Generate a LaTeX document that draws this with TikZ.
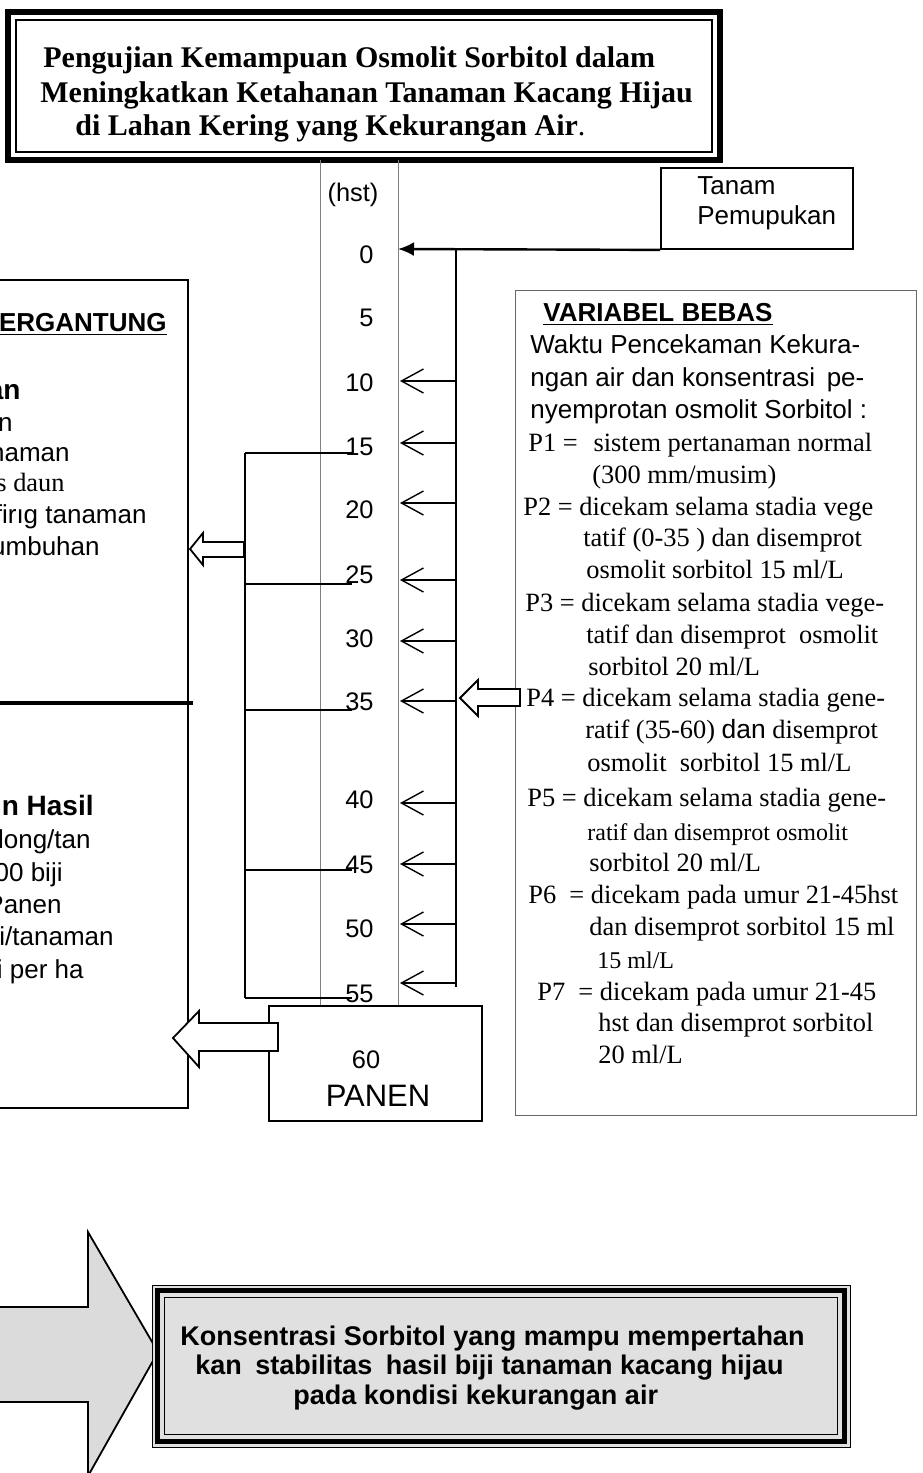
\documentclass[tikz,border=0pt]{standalone}
\usepackage{fontspec}
\setmainfont{Liberation Serif}
\setsansfont{Liberation Sans}
\usetikzlibrary{arrows.meta}
\begin{document}
\begin{tikzpicture}[x=0.5pt,y=-0.5pt,
  sanst/.style={inner sep=0pt, text height=8pt, text depth=0pt, anchor=west, font=\sffamily\fontsize{13}{15}\selectfont},
  sanse/.style={sanst, anchor=east},
  boldsans/.style={inner sep=0pt, text height=8.5pt, text depth=0pt, anchor=west, font=\sffamily\bfseries\fontsize{13}{15}\selectfont},
  boldbig/.style={inner sep=0pt, text height=9pt, text depth=0pt, anchor=east, font=\sffamily\bfseries\fontsize{14}{16}\selectfont},
  seriftxt/.style={inner sep=0pt, text height=8pt, text depth=0pt, anchor=west, font=\rmfamily\fontsize{13.2}{15}\selectfont},
  smallser/.style={seriftxt, font=\rmfamily\fontsize{12}{14}\selectfont},
  num/.style={inner sep=0pt, text height=8pt, text depth=0pt, anchor=east, font=\sffamily\fontsize{12.7}{15}\selectfont},
  titletxt/.style={inner sep=0pt, text height=9.5pt, text depth=0pt, anchor=west, font=\rmfamily\bfseries\fontsize{15}{18}\selectfont},
  conc/.style={inner sep=0pt, text height=8.5pt, text depth=0pt, anchor=west, font=\sffamily\bfseries\fontsize{13.5}{16}\selectfont},
  gline/.style={line width=0.4pt, black!50},
  mainline/.style={line width=1.2pt},
  brk/.style={line width=0.9pt},
  barb/.style={line width=0.7pt, -{Straight Barb[length=11pt,width=12pt]}},
  hollow/.style={line width=0.9pt, fill=white, line join=miter},
  boxline/.style={line width=0.9pt},
]
\fill[white] (0,0) rectangle (922,1473);
\useasboundingbox (0,0) rectangle (922,1473);

% ---------- title ----------
\node[draw, line width=3pt, minimum width=356pt, minimum height=74pt, inner sep=0pt] (titlebox) at (364,86) {};
\node[draw, line width=0.6pt, minimum width=348pt, minimum height=66pt, inner sep=0pt] (titleinner) at (titlebox.center) {};
\node[titletxt] (title1) at (43,58) {Pengujian Kemampuan Osmolit Sorbitol dalam};
\node[titletxt] (title2) at (40,93) {Meningkatkan Ketahanan Tanaman Kacang Hijau};
\node[titletxt] (title3) at (75,126) {di Lahan Kering yang Kekurangan Air{\mdseries.}};

% ---------- time column ----------
\coordinate (g1t) at (320,160); \coordinate (g1b) at (320,1006);
\coordinate (g2t) at (398,160); \coordinate (g2b) at (398,1006);
\draw[gline] (g1t) -- (g1b);
\draw[gline] (g2t) -- (g2b);

\node[num, anchor=center] (hst) at (353,193) {(hst)};
\foreach \lv/\yy in {0/255,5/318,10/383,15/447,20/510,25/575,30/639,35/702,40/800,45/865,50/929,55/994}
  {\node[num] (n\lv) at (374,\yy) {\lv};}

% ---------- Tanam box and main line ----------
\node[draw, boxline, minimum width=96pt, minimum height=40.5pt, inner sep=0pt] (tanam) at (757,208.5) {};
\node[sanst] (tanamA) at (697,186) {Tanam};
\node[sanst] (tanamB) at (697,216) {Pemupukan};
\coordinate (tip0) at (398,249);
\draw[mainline, -{Latex[length=8pt,width=7pt]}] (tanam.south west) -- (tip0);
\coordinate (vtop) at (456,249); \coordinate (vbot) at (456,987);
\draw[mainline] (vtop) -- (vbot);
\foreach \lv/\yy in {10/381,15/443,20/503,25/580,30/641,35/701,40/803,45/864,50/924,55/983}
  {\coordinate (as\lv) at (456,\yy); \coordinate (ae\lv) at (400,\yy);
   \draw[barb] (as\lv) -- (ae\lv);}

% ---------- bracket ----------
\foreach \lv/\yy in {15/453,25/584,35/710,45/870,55/998}
  {\coordinate (bl\lv) at (245,\yy); \coordinate (br\lv) at (352,\yy);
   \draw[brk] (bl\lv) -- (br\lv);}
\draw[brk] (bl15) -- (bl55);

% ---------- left box (cut) ----------
\coordinate (lb1) at (-3,280); \coordinate (lb2) at (188,280);
\coordinate (lb3) at (188,1108); \coordinate (lb4) at (-3,1108);
\draw[boxline] (lb1) -- (lb2) -- (lb3) -- (lb4);
\coordinate (sep1) at (-3,703); \coordinate (sep2) at (193,703);
\draw[line width=2.2pt] (sep1) -- (sep2);
\node[boldsans, anchor=east] (lt0) at (167,323) {\underline{ERGANTUNG}};
\node[boldbig] (lt1) at (21,390) {an};
\node[sanse] (lt2) at (13,423) {n};
\node[sanse] (lt3) at (70,453) {naman};
\node[seriftxt, anchor=east] (lt4) at (65,483) {s daun};
\node[sanse] (lt5) at (147,515) {firıg tanaman};
\node[sanse] (lt6) at (100,547) {umbuhan};
\node[boldbig] (lb0) at (94,806) {n Hasil};
\node[sanse] (lbA) at (91,840) {long/tan};
\node[sanse] (lbB) at (63,873) {00 biji};
\node[sanse] (lbC) at (62,905) {Panen};
\node[sanse] (lbD) at (114,937) {i/tanaman};
\node[sanse] (lbE) at (84,970) {i per ha};

% hollow arrow bracket -> left box
\draw[hollow] (244,542) -- (203,542) -- (203,533) -- (190,549) -- (203,565) -- (203,557) -- (244,557) -- cycle;

% ---------- PANEN ----------
\node[draw, line width=1pt, minimum width=106.5pt, minimum height=57.5pt, inner sep=0pt] (panen) at (375.5,1063.5) {};
\node[num, anchor=center] (p60) at (366,1060) {60};
\node[inner sep=0pt, text height=11pt, text depth=0pt, font=\sffamily\fontsize{15.5}{18}\selectfont] (ptext) at (378,1095) {PANEN};
\draw[hollow] (278,1023) -- (199,1023) -- (199,1011) -- (173,1038) -- (199,1067) -- (199,1051) -- (278,1051) -- cycle;

% ---------- right box ----------
\node[draw, line width=0.5pt, black!60, minimum width=200.5pt, minimum height=412.5pt, inner sep=0pt] (bebas) at (715.5,702.5) {};
\draw[hollow] (520,689) -- (478,689) -- (478,680) -- (460,698) -- (478,716) -- (478,706) -- (520,706) -- cycle;
\node[boldsans] (rb0) at (543,313) {\underline{VARIABEL BEBAS}};
\node[sanst] (rb1) at (530,345) {Waktu Pencekaman Kekura-};
\node[sanst] (rb2) at (530,378) {ngan air dan konsentrasi\hspace{0.45em}pe-};
\node[sanst] (rb3) at (530,410) {nyemprotan osmolit Sorbitol :};
\node[seriftxt] (rb4) at (528,443) {P1 =\hspace{0.6em}sistem pertanaman normal};
\node[seriftxt] (rb5) at (592,475) {(300 mm/musim)};
\node[seriftxt] (rb6) at (523,507) {P2 = dicekam selama stadia vege};
\node[seriftxt] (rb7) at (583,538) {tatif (0-35 ) dan disemprot};
\node[seriftxt] (rb8) at (586,570) {osmolit sorbitol 15 ml/L};
\node[seriftxt] (rb9) at (525,603) {P3 = dicekam selama stadia vege-};
\node[seriftxt] (rb10) at (586,635) {tatif dan disemprot\hspace{0.5em}osmolit};
\node[seriftxt] (rb11) at (588,667) {sorbitol 20 ml/L};
\node[seriftxt] (rb12) at (526,698) {P4 = dicekam selama stadia gene-};
\node[seriftxt] (rb13) at (585,730) {ratif (35-60) {\sffamily dan} disemprot};
\node[seriftxt] (rb14) at (587,763) {osmolit\hspace{0.5em}sorbitol 15 ml/L};
\node[seriftxt] (rb15) at (527,798) {P5 = dicekam selama stadia gene-};
\node[smallser] (rb16) at (587,832) {ratif dan disemprot osmolit};
\node[seriftxt] (rb17) at (589,863) {sorbitol 20 ml/L};
\node[seriftxt] (rb18) at (528,895) {P6\hspace{0.5em}= dicekam pada umur 21-45hst};
\node[seriftxt] (rb19) at (589,927) {dan disemprot sorbitol 15 ml};
\node[smallser] (rb20) at (597,960) {15 ml/L};
\node[seriftxt] (rb21) at (537,992) {P7\hspace{0.5em}= dicekam pada umur 21-45};
\node[seriftxt] (rb22) at (598,1023) {hst dan disemprot sorbitol};
\node[seriftxt] (rb23) at (598,1055) {20 ml/L};

% ---------- bottom ----------
\draw[line width=0.9pt, fill=black!14, line join=miter] (-3,1307) -- (88,1307) -- (88,1232) -- (158,1352) -- (88,1476) -- (88,1402) -- (-3,1402) -- cycle;
\node[draw, line width=0.5pt, fill=black!12, minimum width=349pt, minimum height=81pt, inner sep=0pt] (concl) at (501,1366) {};
\draw[line width=2.2pt] ([shift={(3pt,-3pt)}]concl.north west) rectangle ([shift={(-3pt,3pt)}]concl.south east);
\draw[line width=0.6pt] ([shift={(6.5pt,-6.5pt)}]concl.north west) rectangle ([shift={(-6.5pt,6.5pt)}]concl.south east);
\node[conc] (c1) at (180,1337) {Konsentrasi Sorbitol yang mampu mempertahan};
\node[conc] (c2) at (195,1366) {kan\hspace{0.5em}stabilitas\hspace{0.5em}hasil biji tanaman kacang hijau};
\node[conc] (c3) at (293,1396) {pada kondisi kekurangan air};
\end{tikzpicture}
\end{document}
